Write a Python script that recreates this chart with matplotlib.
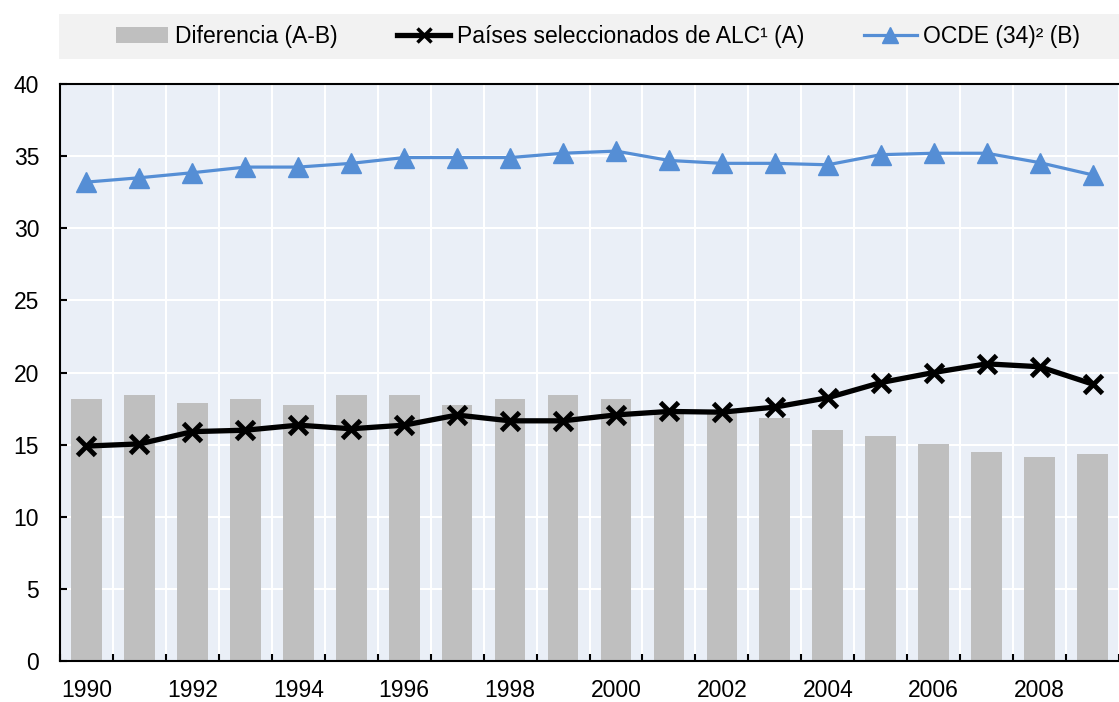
import numpy as np
import matplotlib
matplotlib.use("Agg")
import matplotlib.pyplot as plt
from matplotlib.patches import Rectangle, Patch
from matplotlib.lines import Line2D

plt.rcParams['font.family'] = ['Liberation Sans', 'DejaVu Sans']

years = list(range(1990, 2010))
# Diferencia (A-B), shown as a positive gap
diferencia = [18.15, 18.45, 17.9, 18.15, 17.76, 18.45, 18.45, 17.76, 18.15, 18.45,
              18.15, 17.4, 17.26, 16.83, 16.0, 15.6, 15.07, 14.51, 14.12, 14.37]
# Paises seleccionados de ALC (A)
alc = [14.9, 15.05, 15.9, 16.0, 16.35, 16.1, 16.35, 17.05, 16.65, 16.65,
       17.06, 17.3, 17.25, 17.6, 18.25, 19.3, 20.0, 20.6, 20.4, 19.2]
# OCDE (34) (B)
ocde = [33.2, 33.5, 33.85, 34.24, 34.24, 34.5, 34.9, 34.9, 34.9, 35.2,
        35.35, 34.7, 34.5, 34.5, 34.4, 35.1, 35.2, 35.2, 34.55, 33.7]

labels = ["Diferencia (A-B)", "Países seleccionados de ALC¹ (A)", "OCDE (34)² (B)"]

bar_c = "#bfbfbf"
blue = "#558ed5"
bg = "#eaeff7"

W, H = 1119, 702
fig = plt.figure(figsize=(W / 100, H / 100), dpi=100)

# legend band
fig.patches.append(Rectangle((59 / W, 1 - 59 / H), 1 - 59 / W, 45 / H,
                             transform=fig.transFigure, facecolor="#f2f2f2",
                             edgecolor="none", zorder=0))

ax = fig.add_axes([60 / W, 41 / H, (W - 60) / W, (661 - 84) / H])
ax.set_facecolor(bg)

x = np.arange(len(years))
ax.bar(x, diferencia, width=0.58, color=bar_c, zorder=2)
ax.plot(x, alc, color="black", lw=3.8, marker="x", ms=13, mew=3.5, zorder=4)
ax.plot(x, ocde, color=blue, lw=2.3, marker="^", ms=14.5, zorder=3)

ax.set_ylim(0, 40)
ax.set_xlim(-0.5, 19.24)
ax.set_yticks(range(0, 41, 5))
ax.set_xticks(x[::2])
ax.set_xticklabels([str(y) for y in years[::2]])
ax.set_xticks(np.arange(-0.5, 20, 1), minor=True)

ax.grid(True, axis="y", color="white", lw=1.5, zorder=1)
ax.grid(True, axis="x", which="minor", color="white", lw=1.5, zorder=1)
ax.set_axisbelow(True)

ax.tick_params(axis="x", which="major", length=0, labelsize=16.5, pad=13)
ax.tick_params(axis="x", which="minor", direction="in", length=5, width=1.5)
ax.tick_params(axis="y", direction="in", length=5, width=1.5, labelsize=16.5, pad=15)

for s in ["left", "bottom", "top"]:
    ax.spines[s].set_linewidth(1.5)
    ax.spines[s].set_color("black")
ax.spines["right"].set_visible(False)

handles = [
    Patch(facecolor=bar_c, edgecolor="none"),
    Line2D([], [], color="black", lw=3.8, marker="x", ms=10, mew=2.5),
    Line2D([], [], color=blue, lw=2.3, marker="^", ms=11),
]
fig.legend(handles, labels, loc="center", bbox_to_anchor=(598 / W, 1 - 36.5 / H),
           ncol=3, frameon=False, fontsize=16.5, handlelength=2.3,
           handletextpad=0.3, columnspacing=2.6, handleheight=0.65)

fig.savefig("out.png", dpi=100)
